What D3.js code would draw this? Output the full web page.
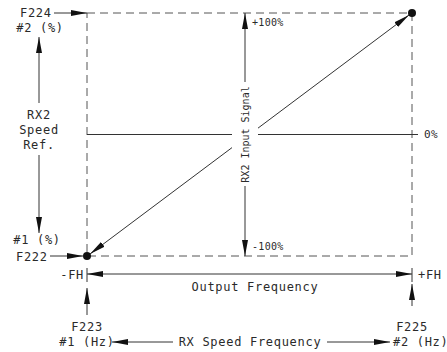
<!DOCTYPE html>
<html>
<head>
<meta charset="utf-8">
<script src="https://cdn.jsdelivr.net/npm/d3@7"></script>
<style>
  body { margin: 0; background: #fff; }
  text { font-family: "DejaVu Sans Mono", monospace; fill: #2a2a2a; }
</style>
</head>
<body>
<svg width="447" height="352"></svg>
<script>
// data
var freqDomain = [-1, 1];            // -FH .. +FH
var signalDomain = [-100, 100];      // RX2 input signal, %
var freqLabels = ["-FH", "+FH"];
var signalLabels = ["-100%", "0%", "+100%"];
var curveX = [-1, 1];
var curveY = [-100, 100];
var leftParams = ["F222", "#1 (%)", "F224", "#2 (%)"];
var bottomParams = ["F223", "#1 (Hz)", "F225", "#2 (Hz)"];
var leftTitle = ["RX2", "Speed", "Ref."];
var bottomTitle = "RX Speed Frequency";
var outTitle = "Output Frequency";
var midTitle = "RX2 Input Signal";

var svg = d3.select("svg");
var x = d3.scaleLinear().domain(freqDomain).range([87, 412]);
var y = d3.scaleLinear().domain(signalDomain).range([256, 13]);

var defs = svg.append("defs");
defs.append("marker")
    .attr("id", "ah")
    .attr("markerUnits", "userSpaceOnUse")
    .attr("viewBox", "0 0 16 6")
    .attr("refX", 16).attr("refY", 3)
    .attr("markerWidth", 16).attr("markerHeight", 6)
    .attr("orient", "auto-start-reverse")
    .append("path").attr("d", "M0,0 L16,3 L0,6 Z").attr("fill", "#111");

function line(x1, y1, x2, y2, start, end) {
    var l = svg.append("line")
        .attr("x1", x1).attr("y1", y1).attr("x2", x2).attr("y2", y2)
        .attr("stroke", "#333").attr("stroke-width", 1);
    if (start) l.attr("marker-start", "url(#ah)");
    if (end) l.attr("marker-end", "url(#ah)");
    return l;
}
function label(t, tx, ty, anchor, size) {
    size = size || 12;
    return svg.append("text").attr("x", tx).attr("y", ty)
        .attr("dy", "0.35em")
        .attr("text-anchor", anchor || "middle")
        .style("font-size", size + "px")
        .style("letter-spacing", size >= 12 ? "0.7px" : "0.3px")
        .text(t);
}

// dashed frame
var x0 = x(freqDomain[0]), x1 = x(freqDomain[1]);
var y0 = y(signalDomain[0]), y1 = y(signalDomain[1]);
svg.append("rect")
    .attr("x", x0).attr("y", y1)
    .attr("width", x1 - x0).attr("height", y0 - y1)
    .attr("fill", "none").attr("stroke", "#555")
    .attr("stroke-dasharray", "8,5");

// zero line
var midX = 245;
line(x0, y(0), x1 + 6, y(0));
label(signalLabels[1], x1 + 12, y(0), "start", 11);

// diagonal (characteristic)
line(x(curveX[0]) + 3, y(curveY[0]) - 2, x(curveX[1]) - 3, y(curveY[1]) + 2, true, true);

// middle vertical axis
line(midX, y(0), midX, y(100), false, true);
line(midX, y(0), midX, y(-100), false, true);
svg.append("rect").attr("x", midX - 13).attr("y", 82)
    .attr("width", 26).attr("height", 104).attr("fill", "#fff");
svg.append("text")
    .attr("transform", "translate(" + midX + "," + y(0) + ") rotate(-90)")
    .attr("dy", "0.35em").attr("text-anchor", "middle")
    .style("font-size", "10px").text(midTitle);
label(signalLabels[2], midX + 7, 22, "start", 10);
label(signalLabels[0], midX + 7, 246, "start", 10);

// points
svg.selectAll("circle.pt").data(curveX).enter().append("circle")
    .attr("class", "pt")
    .attr("cx", function(d) { return x(d); })
    .attr("cy", function(d, i) { return y(curveY[i]); })
    .attr("r", 4).attr("fill", "#111");

// left annotations
label(leftParams[2], 20, y1, "start");
line(54, y1, x0, y1, false, true);
label(leftParams[3], 40, 28);
line(39, 103, 39, 37, false, true);
leftTitle.forEach(function(t, i) { label(t, 39, 115 + i * 15); });
line(39, 155, 39, 233, false, true);
label(leftParams[1], 37, 240);
label(leftParams[0], 16, y0 + 1, "start");
line(50, y0, x0 - 4, y0, false, true);

// output frequency axis
var oy = 274;
line(x0, oy, x1, oy, true, true);
line(x0, oy - 6, x0, oy + 8);
line(x1, oy - 6, x1, oy + 8);
label(freqLabels[0], x0 - 3, oy + 1, "end");
label(freqLabels[1], x1 + 6, oy + 1, "start");
label(outTitle, 255, 287);

// bottom annotations
line(x0, 315, x0, 288, false, true);
line(x1, 306, x1, 284, false, true);
label(bottomParams[0], x0, 327);
label(bottomParams[1], x0, 342);
label(bottomParams[2], x1, 327);
label(bottomParams[3], 393, 342, "start");
label(bottomTitle, 250, 342);
line(173, 342, 112, 342, false, true);
line(327, 342, 390, 342, false, true);
</script>
</body>
</html>
